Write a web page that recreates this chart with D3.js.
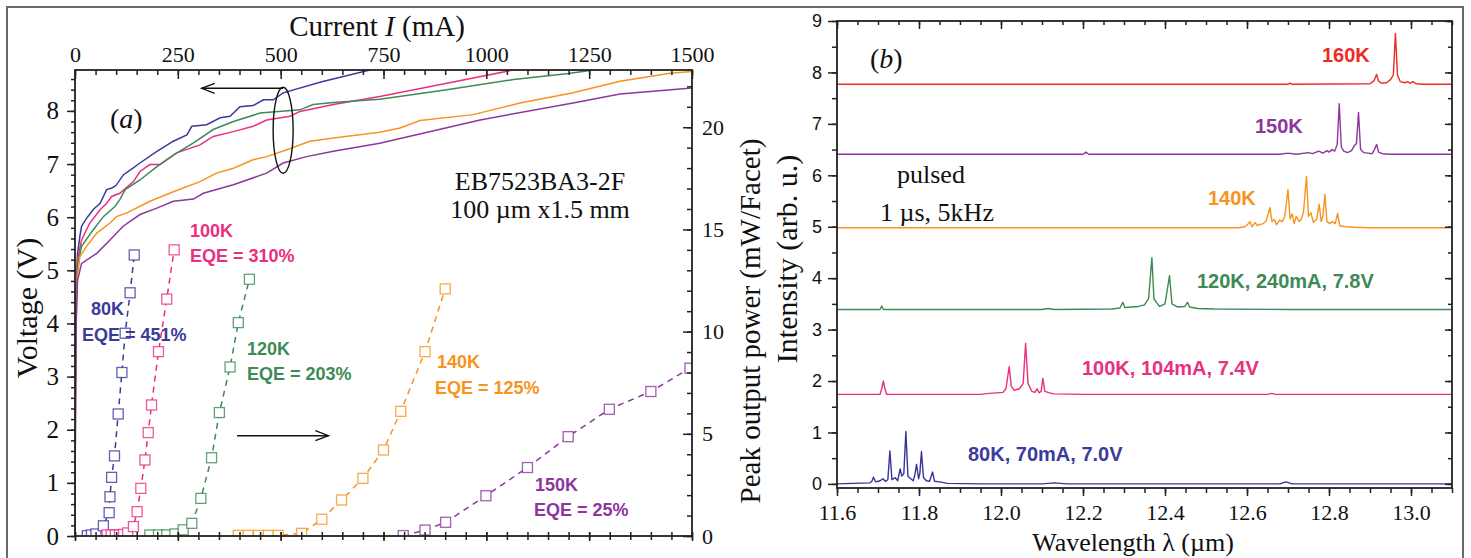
<!DOCTYPE html>
<html lang="en">
<head>
<meta charset="utf-8">
<title>LIV and spectra</title>
<script src="https://d3js.org/d3.v7.min.js"></script>
<style>
  body { margin: 0; background: #fff; }
  svg { display: block; }
  .serif { font-family: "Liberation Serif", "Times New Roman", serif; }
  .sans { font-family: "Liberation Sans", Arial, sans-serif; }
  .axis path { display: none; }
  .axis line { stroke: #222; stroke-width: 1.5; }
  .axis text { fill: #111; }
  .frame { fill: none; stroke: #222; stroke-width: 1.8; }
  .lbl { font-family: "Liberation Sans", Arial, sans-serif; font-weight: bold; }
</style>
</head>
<body>
<script>
// ---- panel (a): tick labels ----
var currentTicks = [0, 250, 500, 750, 1000, 1250, 1500];
var voltageTicks = [0, 1, 2, 3, 4, 5, 6, 7, 8];
var powerTicks = [0, 5, 10, 15, 20];

// voltage vs current, [mA, V]
var iv80 = [[0,0],[1,2.6],[3,4.5],[6,5.3],[12,5.65],[16,5.83],[30,6.0],[45,6.15],[61,6.26],[77,6.52],[90,6.55],[100,6.6],[118,6.8],[140,6.92],[158,7.02],[199,7.24],[239,7.43],[272,7.55],[284,7.71],[320,7.74],[353,7.87],[377,7.9],[401,8.08],[433,8.1],[458,8.21],[482,8.21],[506,8.34],[600,8.55],[717,8.77]];
var iv100 = [[0,0],[1,2.8],[3,4.6],[6,5.2],[16,5.57],[36,5.89],[61,6.14],[77,6.26],[89,6.39],[109,6.45],[142,6.67],[158,6.86],[182,6.99],[207,6.99],[247,7.21],[304,7.36],[336,7.52],[385,7.61],[433,7.71],[466,7.83],[523,7.9],[547,7.99],[628,8.12],[741,8.27],[904,8.52],[1065,8.77]];
var iv120 = [[0,0],[1,2.7],[3,4.4],[6,5.1],[16,5.45],[44,5.76],[69,6.01],[97,6.2],[109,6.33],[122,6.52],[158,6.7],[199,6.95],[239,7.17],[288,7.4],[336,7.65],[385,7.8],[450,7.96],[547,8.02],[579,8.12],[628,8.16],[741,8.22],[904,8.4],[1066,8.59],[1195,8.7],[1260,8.77]];
var iv140 = [[0,0],[1,2.5],[3,4.2],[6,4.9],[12,5.26],[28,5.45],[53,5.7],[85,5.89],[101,6.01],[126,6.08],[182,6.3],[239,6.48],[304,6.67],[344,6.83],[385,6.92],[433,7.08],[466,7.14],[515,7.27],[571,7.43],[628,7.49],[741,7.6],[790,7.68],[839,7.82],[968,7.93],[1082,8.15],[1211,8.34],[1325,8.56],[1447,8.71],[1500,8.74]];
var iv150 = [[0,0],[1,2.4],[3,4.0],[6,4.8],[16,5.13],[53,5.32],[85,5.57],[117,5.83],[158,6.05],[199,6.17],[239,6.3],[288,6.34],[312,6.45],[344,6.52],[385,6.61],[466,6.83],[506,7.02],[563,7.14],[628,7.24],[741,7.39],[985,7.83],[1211,8.15],[1325,8.32],[1500,8.43]];

// peak output power vs current, [mA, mW]
var pw80 = [[30,0.02],[40,0.05],[51,0.1],[69,0.5],[83,1.14],[85,1.92],[89,2.87],[96,3.92],[105,5.97],[114,8.0],[122,9.92],[134,11.9],[144,13.75]];
var pw100 = [[78,0.05],[88,0.05],[98,0.05],[108,0.05],[118,0.08],[128,0.15],[142,0.46],[151,1.19],[160,2.33],[170,3.72],[178,5.06],[186,6.41],[203,9.02],[223,11.59],[241,14.0]];
var pw120 = [[182,0.05],[203,0.05],[223,0.05],[243,0.1],[263,0.3],[284,0.62],[306,1.84],[332,3.83],[351,6.04],[377,8.27],[397,10.44],[424,12.56]];
var pw140 = [[397,0.03],[421,0.03],[446,0.03],[470,0.03],[494,0.03],[551,0.13],[600,0.82],[648,1.76],[700,2.82],[750,4.21],[792,6.1],[851,9.02],[900,12.09]];
var pw150 = [[798,0.02],[851,0.29],[901,0.67],[999,1.97],[1100,3.35],[1199,4.86],[1299,6.2],[1400,7.07],[1495,8.21]];

// ---- panel (b): tick labels ----
var wavelengthTicks = [11.6, 11.8, 12.0, 12.2, 12.4, 12.6, 12.8, 13.0];
var intensityTicks = [0, 1, 2, 3, 4, 5, 6, 7, 8, 9];

// spectra, [um, arb. u.]
var spec80 = [[11.6,0.0],[11.64,0.01],[11.68,0.02],[11.685,0.05],[11.689,0.13],[11.694,0.04],[11.705,0.06],[11.712,0.1],[11.718,0.05],[11.724,0.08],[11.729,0.64],[11.734,0.08],[11.742,0.12],[11.748,0.06],[11.754,0.29],[11.758,0.15],[11.763,0.2],[11.768,1.02],[11.773,0.15],[11.78,0.1],[11.786,0.06],[11.79,0.18],[11.794,0.38],[11.799,0.1],[11.802,0.2],[11.806,0.63],[11.811,0.12],[11.818,0.06],[11.826,0.05],[11.833,0.23],[11.838,0.05],[11.85,0.04],[11.87,0.01],[11.95,0.0],[12.1,0.0],[12.13,0.02],[12.16,0.0],[12.68,0.0],[12.695,0.04],[12.71,0.0],[13.1,0.0]];
var spec100 = [[11.6,1.74],[11.705,1.74],[11.709,1.85],[11.713,2.0],[11.717,1.85],[11.721,1.74],[11.95,1.74],[11.97,1.76],[11.99,1.77],[12.005,1.78],[12.012,1.85],[12.02,2.28],[12.025,1.9],[12.032,1.82],[12.045,1.85],[12.054,1.95],[12.06,2.73],[12.066,1.95],[12.075,1.8],[12.083,1.78],[12.088,1.85],[12.093,1.77],[12.098,1.8],[12.102,2.05],[12.107,1.8],[12.118,1.77],[12.13,1.75],[12.2,1.74],[12.65,1.74],[12.66,1.76],[12.67,1.74],[13.1,1.74]];
var spec120 = [[11.6,3.39],[11.705,3.39],[11.709,3.46],[11.713,3.39],[12.1,3.39],[12.115,3.41],[12.13,3.39],[12.27,3.4],[12.29,3.42],[12.297,3.53],[12.302,3.43],[12.32,3.44],[12.335,3.45],[12.35,3.48],[12.36,3.6],[12.368,4.4],[12.373,3.6],[12.38,3.52],[12.387,3.45],[12.4,3.5],[12.411,4.05],[12.417,3.5],[12.43,3.44],[12.448,3.45],[12.455,3.53],[12.46,3.44],[12.48,3.41],[12.52,3.4],[12.7,3.39],[13.1,3.39]];
var spec140 = [[11.6,4.98],[12.58,4.98],[12.595,5.0],[12.602,5.05],[12.607,5.1],[12.612,5.0],[12.62,5.08],[12.625,5.02],[12.63,5.04],[12.64,5.06],[12.647,5.12],[12.656,5.37],[12.661,5.1],[12.667,5.14],[12.672,5.04],[12.68,5.13],[12.686,5.1],[12.692,5.2],[12.7,5.72],[12.705,5.15],[12.71,5.25],[12.715,5.06],[12.72,5.2],[12.727,5.1],[12.733,5.15],[12.738,5.3],[12.745,5.98],[12.75,5.2],[12.756,5.27],[12.762,5.08],[12.77,5.15],[12.776,5.44],[12.781,5.1],[12.785,5.2],[12.79,5.63],[12.795,5.1],[12.802,5.06],[12.808,5.1],[12.815,5.06],[12.821,5.26],[12.826,5.02],[12.84,5.0],[12.86,4.99],[12.9,4.98],[13.1,4.98]];
var spec150 = [[11.6,6.41],[12.2,6.41],[12.207,6.45],[12.214,6.41],[12.68,6.41],[12.7,6.43],[12.72,6.41],[12.75,6.44],[12.76,6.42],[12.775,6.47],[12.785,6.43],[12.795,6.48],[12.8,6.45],[12.808,6.5],[12.814,6.47],[12.82,6.6],[12.825,7.39],[12.83,6.55],[12.836,6.47],[12.845,6.44],[12.855,6.48],[12.862,6.58],[12.867,6.62],[12.872,7.22],[12.877,6.5],[12.885,6.44],[12.895,6.43],[12.905,6.42],[12.911,6.5],[12.916,6.6],[12.921,6.45],[12.93,6.42],[12.95,6.41],[13.1,6.41]];
var spec160 = [[11.6,7.77],[12.7,7.77],[12.705,7.79],[12.71,7.77],[12.9,7.78],[12.91,7.84],[12.916,7.96],[12.921,7.83],[12.928,7.79],[12.94,7.8],[12.95,7.86],[12.957,7.95],[12.962,8.76],[12.967,7.95],[12.974,7.82],[12.985,7.8],[12.992,7.82],[12.998,7.79],[13.005,7.82],[13.012,7.78],[13.03,7.77],[13.1,7.77]];

var c80 = "#3b3b9c", c100 = "#ea2f80", c120 = "#3d8a56", c140 = "#f7931e", c150 = "#8c379c", c160 = "#ec2b25";

var W = 1471, H = 558;
var svg = d3.select("body").append("svg").attr("width", W).attr("height", H);

// outer frame of the figure
svg.append("rect").attr("x", 7).attr("y", 7).attr("width", 1456).attr("height", 570)
   .attr("fill", "none").attr("stroke", "#6a6a6a").attr("stroke-width", 2);

function ax(g, axisFn, scale, majors, minors, majSize, minSize, pad, fmt, font, size) {
    g.append("g").attr("class", "axis")
     .call(axisFn(scale).tickValues(minors).tickSize(minSize).tickFormat(""));
    var a = g.append("g").attr("class", "axis " + font)
     .call(axisFn(scale).tickValues(majors).tickSize(majSize).tickPadding(pad).tickFormat(fmt));
    a.selectAll("text").style("font-size", size + "px");
    return a;
}

// ================= panel (a) =================
var xI = d3.scaleLinear().domain([0, 1500]).range([75, 692]);
var yV = d3.scaleLinear().domain([0, 8.77]).range([536, 70]);
var yP = d3.scaleLinear().domain([0, 22.8]).range([536, 70]);

var ga = svg.append("g");
ga.append("clipPath").attr("id", "clipA").append("rect")
  .attr("x", 75).attr("y", 70).attr("width", 617).attr("height", 466);

var ivLine = d3.line().x(function (d) { return xI(d[0]); }).y(function (d) { return yV(d[1]); });
var pwLine = d3.line().x(function (d) { return xI(d[0]); }).y(function (d) { return yP(d[1]); });

var ivSets = [[iv80, c80], [iv100, c100], [iv120, c120], [iv140, c140], [iv150, c150]];
var pwSets = [[pw80, c80], [pw100, c100], [pw120, c120], [pw140, c140], [pw150, c150]];

var plotA = ga.append("g").attr("clip-path", "url(#clipA)");
plotA.selectAll("path.iv").data(ivSets).enter().append("path")
  .attr("class", "iv").attr("d", function (d) { return ivLine(d[0]); })
  .attr("fill", "none").attr("stroke", function (d) { return d[1]; }).attr("stroke-width", 1.5);

plotA.selectAll("path.pw").data(pwSets).enter().append("path")
  .attr("class", "pw").attr("d", function (d) { return pwLine(d[0]); })
  .attr("fill", "none").attr("stroke", function (d) { return d[1]; })
  .attr("stroke-width", 1.5).attr("stroke-dasharray", "6,5");

pwSets.forEach(function (s) {
    plotA.selectAll(null).data(s[0]).enter().append("rect")
      .attr("x", function (d) { return xI(d[0]) - 5; })
      .attr("y", function (d) { return yP(d[1]) - 5; })
      .attr("width", 10).attr("height", 10)
      .attr("fill", "#fff").attr("stroke", s[1]).attr("stroke-opacity", 0.8).attr("stroke-width", 1.3);
});

// axes of (a)
var topA = ga.append("g").attr("transform", "translate(0,70)");
ax(topA, d3.axisTop, xI, currentTicks, d3.range(0, 1501, 50), -9, -5, 8, d3.format("d"), "serif", 22);
var botA = ga.append("g").attr("transform", "translate(0,536)");
ax(botA, d3.axisBottom, xI, currentTicks, d3.range(0, 1501, 50), 5, 4, 3, function () { return ""; }, "serif", 22);
botA.selectAll("line").attr("y1", -4);
var leftA = ga.append("g").attr("transform", "translate(75,0)");
ax(leftA, d3.axisLeft, yV, voltageTicks, d3.range(0, 8.77, 0.2), 8, 4, 8, d3.format("d"), "serif", 25);
var rightA = ga.append("g").attr("transform", "translate(692,0)");
ax(rightA, d3.axisRight, yP, powerTicks, d3.range(0, 22.8, 1), -9, -5, 10, d3.format("d"), "serif", 22);
ga.append("rect").attr("class", "frame").attr("x", 75).attr("y", 70).attr("width", 617).attr("height", 466);

// axis titles of (a)
var tA = ga.append("text").attr("class", "serif").attr("x", 377).attr("y", 36)
  .attr("text-anchor", "middle").style("font-size", "29px").attr("fill", "#111");
tA.append("tspan").text("Current ");
tA.append("tspan").style("font-style", "italic").text("I");
tA.append("tspan").text(" (mA)");
ga.append("text").attr("class", "serif").attr("transform", "translate(37,308) rotate(-90)")
  .attr("text-anchor", "middle").style("font-size", "30px").attr("fill", "#111").text("Voltage (V)");
ga.append("text").attr("class", "serif").attr("transform", "translate(760,321) rotate(-90)")
  .attr("text-anchor", "middle").style("font-size", "29px").attr("fill", "#111").text("Peak output power (mW/Facet)");

var pa = ga.append("text").attr("class", "serif").attr("x", 110).attr("y", 128)
  .style("font-size", "28px").attr("fill", "#111");
pa.append("tspan").text("(");
pa.append("tspan").style("font-style", "italic").text("a");
pa.append("tspan").text(")");

ga.append("text").attr("class", "serif").attr("x", 540).attr("y", 190).attr("text-anchor", "middle")
  .style("font-size", "26px").attr("fill", "#111").text("EB7523BA3-2F");
ga.append("text").attr("class", "serif").attr("x", 540).attr("y", 218).attr("text-anchor", "middle")
  .style("font-size", "26px").attr("fill", "#111").text("100 \u00b5m x1.5 mm");

// ellipse and arrows
ga.append("ellipse").attr("cx", xI(506)).attr("cy", yV(7.635)).attr("rx", 10).attr("ry", 43)
  .attr("fill", "none").attr("stroke", "#111").attr("stroke-width", 1.4);
function arrow(x1, x2, y, dir) {
    ga.append("line").attr("x1", x1).attr("x2", x2).attr("y1", y).attr("y2", y)
      .attr("stroke", "#111").attr("stroke-width", 1.5);
    ga.append("path").attr("d", "M" + (x2 - dir * 13) + "," + (y - 5) + "L" + x2 + "," + y + "L" + (x2 - dir * 13) + "," + (y + 5))
      .attr("fill", "none").attr("stroke", "#111").attr("stroke-width", 1.4);
}
arrow(xI(506), xI(308), yV(8.426), -1);
arrow(xI(394), xI(616), yP(4.91), 1);

// temperature / EQE labels of (a)
var labelsA = [
    ["100K", 190, 237, c100], ["EQE = 310%", 190, 262, c100],
    ["80K", 91, 315, c80], ["EQE = 451%", 82, 341, c80],
    ["120K", 247, 355, c120], ["EQE = 203%", 247, 380, c120],
    ["140K", 437, 368, c140], ["EQE = 125%", 435, 394, c140],
    ["150K", 535, 491, c150], ["EQE = 25%", 534, 516, c150]
];
ga.selectAll("text.lbl").data(labelsA).enter().append("text").attr("class", "lbl")
  .attr("x", function (d) { return d[1]; }).attr("y", function (d) { return d[2]; })
  .attr("fill", function (d) { return d[3]; }).style("font-size", "18px")
  .text(function (d) { return d[0]; });

// ================= panel (b) =================
var xL = d3.scaleLinear().domain([11.6, 13.1]).range([837, 1452]);
var yS = d3.scaleLinear().domain([-0.08, 9]).range([488, 21]);

var gb = svg.append("g");
gb.append("clipPath").attr("id", "clipB").append("rect")
  .attr("x", 837).attr("y", 21).attr("width", 615).attr("height", 467);

var specLine = d3.line().x(function (d) { return xL(d[0]); }).y(function (d) { return yS(d[1]); });
var specSets = [[spec80, "#34349a"], [spec100, c100], [spec120, c120], [spec140, c140], [spec150, c150], [spec160, c160]];
gb.append("g").attr("clip-path", "url(#clipB)").selectAll("path").data(specSets).enter().append("path")
  .attr("d", function (d) { return specLine(d[0]); })
  .attr("fill", "none").attr("stroke", function (d) { return d[1]; }).attr("stroke-width", 1.4)
  .attr("stroke-linejoin", "round");

var wlMinor = d3.range(11.6, 13.1001, 0.05);
var intMinor = d3.range(0, 9.001, 0.5);
var topB = gb.append("g").attr("transform", "translate(0,21)");
ax(topB, d3.axisTop, xL, wavelengthTicks, wlMinor, -8, -4, 8, function () { return ""; }, "serif", 22);
var botB = gb.append("g").attr("transform", "translate(0,488)");
ax(botB, d3.axisBottom, xL, wavelengthTicks, wlMinor, 8, 5, 8, d3.format(".1f"), "serif", 22);
var leftB = gb.append("g").attr("transform", "translate(837,0)");
ax(leftB, d3.axisLeft, yS, intensityTicks, intMinor, 9, 5, 6, d3.format("d"), "sans", 18);
var rightB = gb.append("g").attr("transform", "translate(1452,0)");
ax(rightB, d3.axisRight, yS, intensityTicks, intMinor, -7, -4, 6, function () { return ""; }, "sans", 18);
gb.append("rect").attr("class", "frame").attr("x", 837).attr("y", 21).attr("width", 615).attr("height", 467);

gb.append("text").attr("class", "serif").attr("x", 1133).attr("y", 551).attr("text-anchor", "middle")
  .style("font-size", "26px").attr("fill", "#111").text("Wavelength \u03bb (\u00b5m)");
gb.append("text").attr("class", "serif").attr("transform", "translate(797,259) rotate(-90)")
  .attr("text-anchor", "middle").style("font-size", "30px").attr("fill", "#111").text("Intensity (arb. u.)");

var pb = gb.append("text").attr("class", "serif").attr("x", 870).attr("y", 68)
  .style("font-size", "28px").attr("fill", "#111");
pb.append("tspan").text("(");
pb.append("tspan").style("font-style", "italic").text("b");
pb.append("tspan").text(")");

gb.append("text").attr("class", "serif").attr("x", 897).attr("y", 183)
  .style("font-size", "26px").attr("fill", "#111").text("pulsed");
gb.append("text").attr("class", "serif").attr("x", 880).attr("y", 221)
  .style("font-size", "26px").attr("fill", "#111").text("1 \u00b5s, 5kHz");

var labelsB = [
    ["160K", 1322, 62, c160], ["150K", 1255, 133, c150], ["140K", 1208, 205, c140],
    ["120K, 240mA, 7.8V", 1197, 288, c120], ["100K, 104mA, 7.4V", 1082, 375, c100],
    ["80K, 70mA, 7.0V", 968, 461, c80]
];
gb.selectAll("text.lbl").data(labelsB).enter().append("text").attr("class", "lbl")
  .attr("x", function (d) { return d[1]; }).attr("y", function (d) { return d[2]; })
  .attr("fill", function (d) { return d[3]; }).style("font-size", "20px")
  .text(function (d) { return d[0]; });
</script>
</body>
</html>
